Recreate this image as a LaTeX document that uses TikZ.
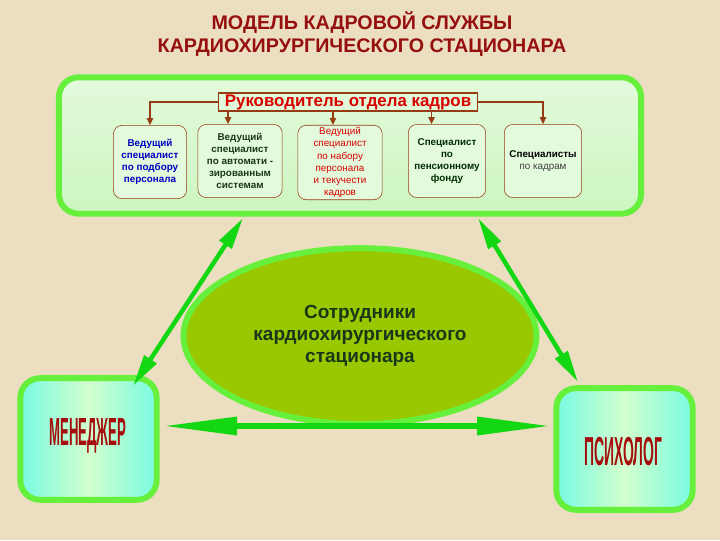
\documentclass[tikz,border=0pt]{standalone}
\usepackage{fontspec}
\setmainfont{Liberation Sans}
\usetikzlibrary{arrows.meta,shapes.geometric}

\definecolor{paper}{RGB}{236,222,192}
\definecolor{rim}{RGB}{102,240,60}
\definecolor{panel}{RGB}{204,246,192}
\definecolor{brownline}{RGB}{150,60,20}
\definecolor{titlered}{RGB}{150,15,15}
\definecolor{olive}{RGB}{153,200,0}
\definecolor{arrowgreen}{RGB}{20,215,20}
\definecolor{aqua}{RGB}{120,250,225}
\definecolor{mint}{RGB}{210,255,205}
\definecolor{inkgreen}{RGB}{25,55,25}

\begin{document}
\begin{tikzpicture}[x=0.025cm, y=-0.025cm,
    post/.style={draw=brownline, thin, rounded corners=6pt, fill=panel!55!white,
      align=center, inner sep=1pt, minimum height=52pt,
      font=\fontsize{7}{8.6}\selectfont},
    mainbox/.style={draw=rim, line width=4.2pt, rounded corners=14pt,
      left color=aqua, right color=aqua, middle color=mint, inner sep=0pt},
    wordart/.style={font=\bfseries\fontsize{18}{18}\selectfont, text=titlered!85!red},
    link/.style={draw=brownline, line width=1pt, -{Triangle[length=5pt,width=4.5pt]}},
    slant/.style={draw=arrowgreen, line width=3.2pt,
      {Triangle[length=32*0.025cm,width=14*0.025cm]}-{Triangle[length=32*0.025cm,width=14*0.025cm]}},
    flat/.style={draw=arrowgreen, line width=4.5pt,
      {Triangle[length=75*0.025cm,width=17*0.025cm]}-{Triangle[length=75*0.025cm,width=17*0.025cm]}}
  ]

  \fill[paper] (0,0) rectangle (720,540);
  \useasboundingbox (0,0) rectangle (720,540);

  \node[font=\bfseries\fontsize{14}{16.3}\selectfont, text=titlered, align=center]
    (title) at (362,34) {МОДЕЛЬ КАДРОВОЙ СЛУЖБЫ\\КАРДИОХИРУРГИЧЕСКОГО СТАЦИОНАРА};

  % upper panel
  \node[draw=rim, line width=4.2pt, rounded corners=14pt, top color=panel!55!white,
    bottom color=panel, minimum width=414pt, minimum height=97pt] (panel) at (350,145.5) {};

  \node[draw=brownline, line width=1pt, fill=panel!60!white, minimum width=184pt,
    minimum height=13pt, inner sep=0pt, text=red!85!black,
    font=\bfseries\fontsize{12}{12}\selectfont] (head) at (348,102) {Руководитель отдела кадров};

  \node[post, minimum width=52pt, text=blue!75!black, font=\bfseries\fontsize{7}{8.6}\selectfont]
    (b1) at (150,162) {Ведущий\\специалист\\по подбору\\персонала};
  \node[post, minimum width=60pt, text=inkgreen, font=\bfseries\fontsize{7}{8.6}\selectfont]
    (b2) at (240,161) {Ведущий\\специалист\\по автомати -\\зированным\\системам};
  \node[post, minimum width=60pt, minimum height=53pt, text=red!85!black]
    (b3) at (340,162.5) {Ведущий\\специалист\\по набору\\персонала\\и текучести\\кадров};
  \node[post, minimum width=55pt, text=black!70!green!60!black, font=\bfseries\fontsize{7}{8.6}\selectfont]
    (b4) at (447,161) {Специалист\\по\\пенсионному\\фонду};
  \node[post, minimum width=55pt]
    (b5) at (543,161) {\textbf{Специалисты}\\\textcolor{black!75}{по кадрам}};

  \draw[link] (head.west) -| (b1.north);
  \draw[link] (head.east) -| (b5.north);
  \draw[link] ([xshift=-8.5pt]b2.north |- head.south) -- ([xshift=-8.5pt]b2.north);
  \draw[link] ([xshift=-5pt]b3.north |- head.south) -- ([xshift=-5pt]b3.north);
  \draw[link] ([xshift=-11pt]b4.north |- head.south) -- ([xshift=-11pt]b4.north);

  % staff
  \node[ellipse, draw=rim, line width=4.2pt, fill=olive, minimum width=251pt,
    minimum height=125pt, inner sep=0pt, align=center, text=inkgreen,
    font=\bfseries\fontsize{13.5}{15.8}\selectfont]
    (staff) at (360,336) {Сотрудники\\кардиохирургического\\стационара};

  % manager and psychologist
  \node[mainbox, minimum width=97pt, minimum height=86.5pt] (mgr) at (88.5,439) {};
  \node[wordart] at (88,436) {\scalebox{0.52}[1.55]{МЕНЕДЖЕР}};
  \node[mainbox, minimum width=97pt, minimum height=86.5pt] (psy) at (624.5,449) {};
  \node[wordart] at (623,452) {\scalebox{0.55}[1.6]{ПСИХОЛОГ}};

  \coordinate (pl) at (243,218);
  \coordinate (ml) at (133,386);
  \coordinate (pr) at (478,218);
  \coordinate (mr) at (578,382);
  \coordinate (ha) at (162,426);
  \coordinate (hb) at (552,426);

  \draw[slant] (ml) -- (pl);
  \draw[slant] (pr) -- (mr);
  \draw[flat] (ha) -- (hb);

\end{tikzpicture}
\end{document}
